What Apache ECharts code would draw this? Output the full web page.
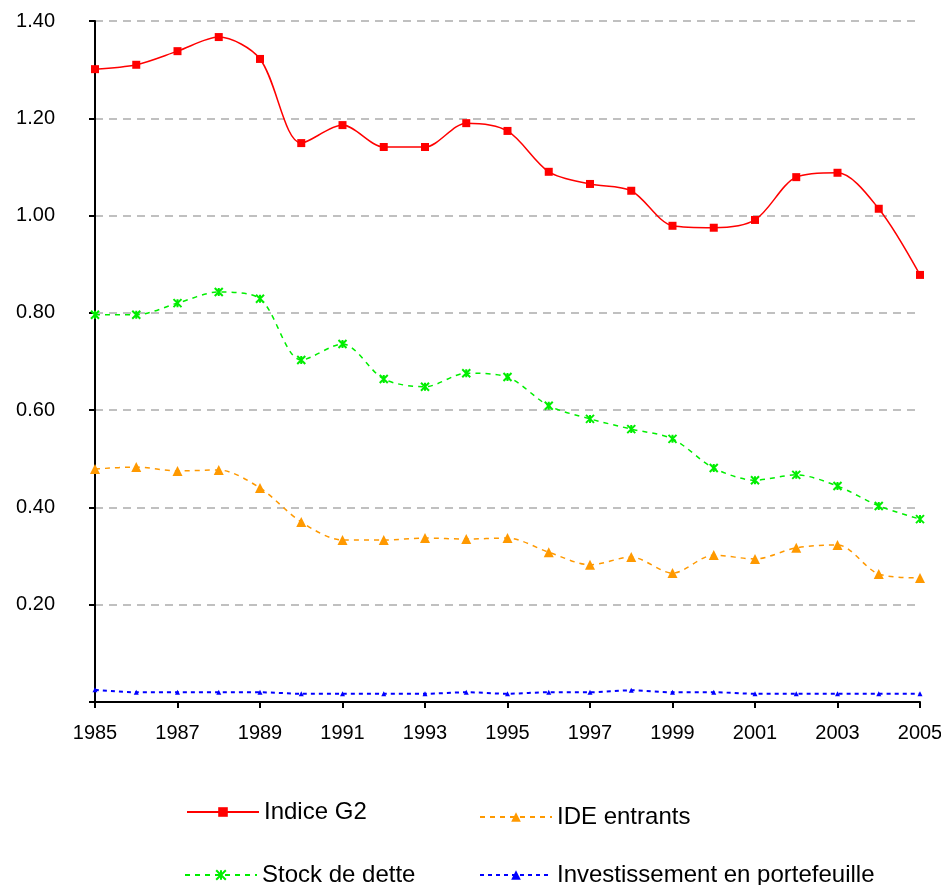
<!DOCTYPE html>
<html>
<head>
<meta charset="utf-8">
<script src="https://cdn.jsdelivr.net/npm/echarts@6/dist/echarts.min.js"></script>
<style>html,body{margin:0;padding:0;background:#fff}#c{width:941px;height:885px}</style>
</head>
<body>
<div id="c"></div>
<script>
const years = ['1985','1986','1987','1988','1989','1990','1991','1992','1993','1994','1995','1996','1997','1998','1999','2000','2001','2002','2003','2004','2005'];
const indiceG2 = [1.301,1.310,1.338,1.367,1.322,1.149,1.186,1.141,1.141,1.190,1.174,1.090,1.065,1.051,0.979,0.975,0.991,1.079,1.088,1.014,0.878];
const ideEntrants = [0.479,0.483,0.475,0.477,0.440,0.370,0.333,0.333,0.337,0.335,0.337,0.308,0.282,0.298,0.265,0.302,0.294,0.317,0.323,0.263,0.255];
const stockDette = [0.796,0.796,0.820,0.843,0.829,0.703,0.736,0.664,0.648,0.676,0.668,0.609,0.582,0.561,0.541,0.481,0.456,0.467,0.444,0.403,0.376];
const portefeuille = [0.025,0.020,0.020,0.020,0.020,0.017,0.017,0.017,0.017,0.020,0.017,0.020,0.020,0.024,0.020,0.020,0.017,0.017,0.017,0.017,0.017];
const yTicks = [0, 0.2, 0.4, 0.6, 0.8, 1.0, 1.2, 1.4];

const font = 'Liberation Sans, Arial, sans-serif';
const crossPath = 'path://M0,0L10,10M10,0L0,10M5,0L5,10';
const chart = echarts.init(document.getElementById('c'));
const legendBase = {
  itemWidth: 72, itemHeight: 12, itemGap: 10,
  textStyle: {fontFamily: font, fontSize: 24, color: '#000'}
};
chart.setOption({
  animation: false,
  backgroundColor: '#fff',
  grid: {left: 95, right: 21, top: 21, bottom: 183, outerBoundsMode: 'none', containLabel: false},
  legend: [
    Object.assign({left: 181, top: 795, data: ['Indice G2']}, legendBase),
    Object.assign({left: 474, top: 800, data: ['IDE entrants']}, legendBase),
    Object.assign({left: 179, top: 858, data: ['Stock de dette']}, legendBase),
    Object.assign({left: 474, top: 858, data: ['Investissement en portefeuille']}, legendBase)
  ],
  xAxis: {
    type: 'category', data: years, boundaryGap: false,
    axisLine: {lineStyle: {color: '#000', width: 2}},
    axisTick: {interval: 1, length: 6, lineStyle: {color: '#000', width: 2}},
    axisLabel: {interval: 1, fontFamily: font, fontSize: 20, color: '#000', margin: 21}
  },
  yAxis: {
    type: 'value', min: yTicks[0], max: yTicks[yTicks.length-1], interval: 0.2,
    axisLine: {show: true, lineStyle: {color: '#000', width: 2}},
    axisTick: {show: true, length: 6, lineStyle: {color: '#000', width: 2}},
    axisLabel: {fontFamily: font, fontSize: 20, color: '#000', margin: 40,
      formatter: v => v === 0 ? '' : v.toFixed(2)},
    splitLine: {lineStyle: {color: '#c0c0c0', type: [8, 6], width: 2}}
  },
  series: [
    {name: 'Indice G2', type: 'line', data: indiceG2, smooth: 0.3,
     symbol: 'rect', symbolSize: 8, color: '#ff0000',
     lineStyle: {color: '#ff0000', width: 1.5}, itemStyle: {color: '#ff0000'}},
    {name: 'IDE entrants', type: 'line', data: ideEntrants, smooth: 0.3,
     symbol: 'triangle', symbolSize: 10, color: '#ff9900',
     lineStyle: {color: '#ff9900', width: 1.5, type: [5, 5]}, itemStyle: {color: '#ff9900'}},
    {name: 'Stock de dette', type: 'line', data: stockDette, smooth: 0.3,
     symbol: crossPath, symbolSize: 8, color: '#00ee00',
     lineStyle: {color: '#00ee00', width: 1.5, type: [5, 5]},
     itemStyle: {color: 'none', borderColor: '#00ee00', borderWidth: 2}},
    {name: 'Investissement en portefeuille', type: 'line', data: portefeuille, smooth: 0.3,
     symbol: 'triangle', symbolSize: 5, color: '#0000ff',
     lineStyle: {color: '#0000ff', width: 2, type: [4, 4]}, itemStyle: {color: '#0000ff'}}
  ]
});
</script>
</body>
</html>
